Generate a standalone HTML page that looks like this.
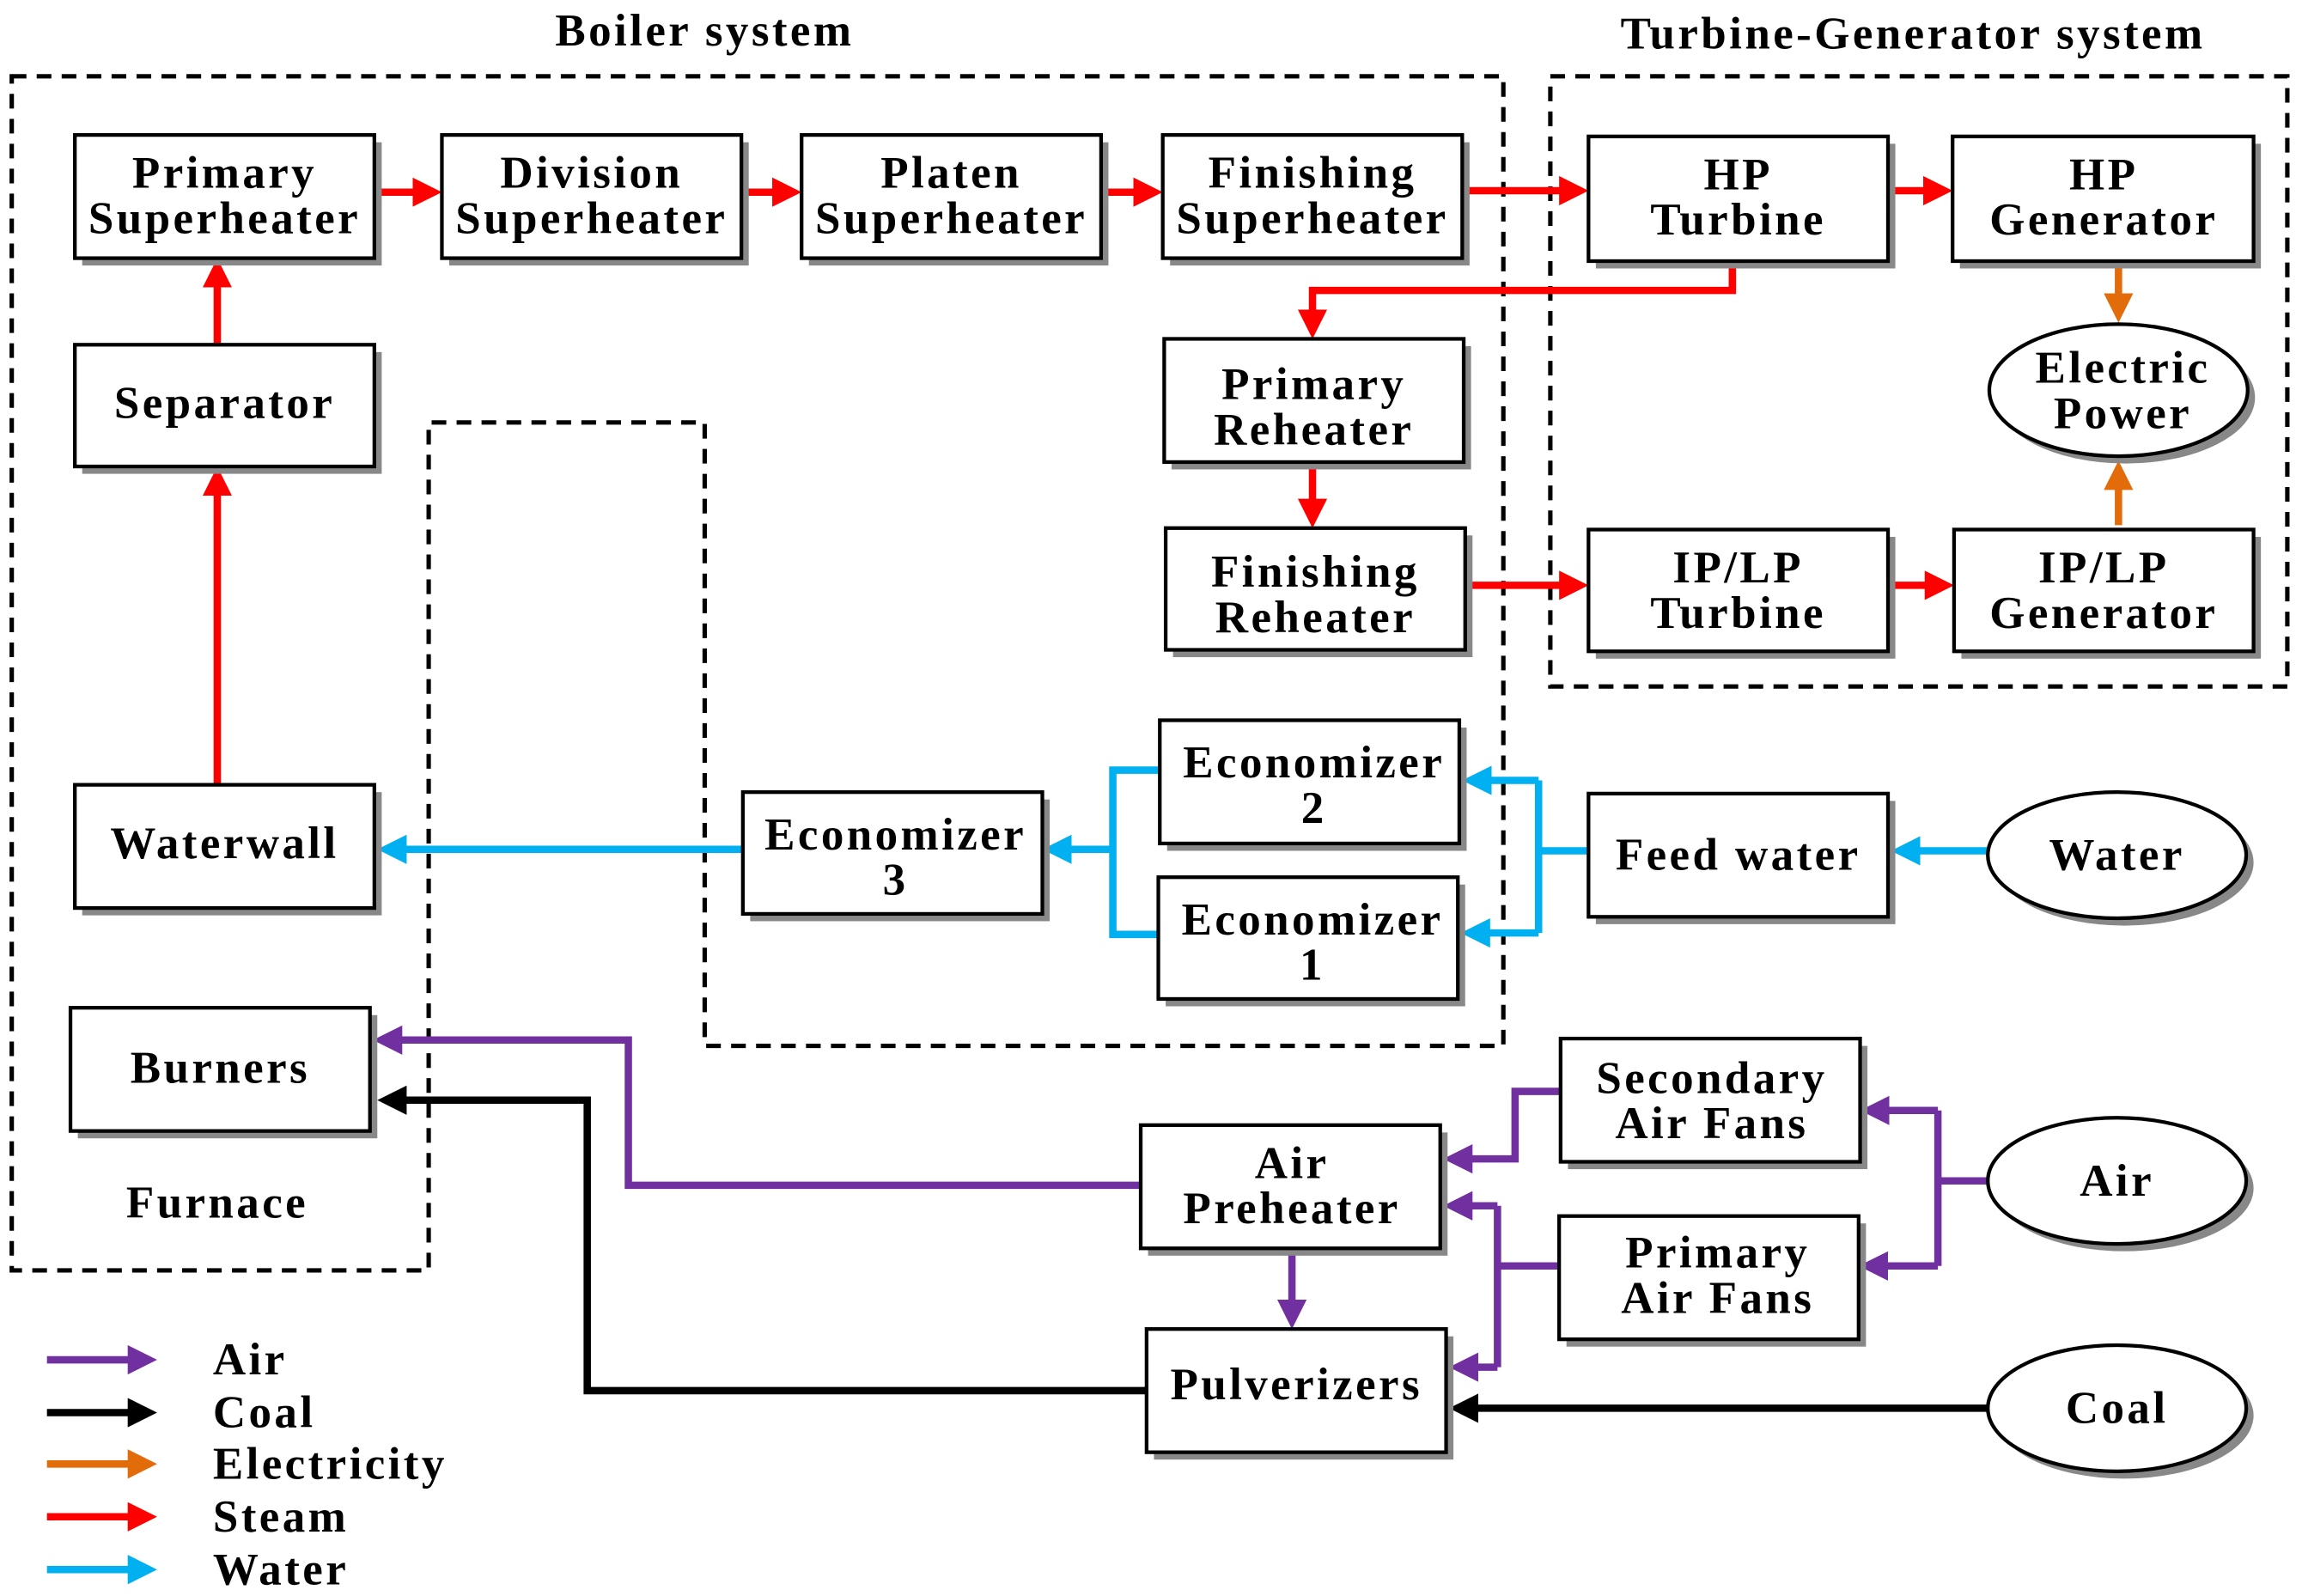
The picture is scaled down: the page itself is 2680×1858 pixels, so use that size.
<!DOCTYPE html>
<html><head><meta charset="utf-8"><style>
html,body{margin:0;padding:0;background:#fff}
svg{display:block}
text{font-family:"Liberation Serif",serif;font-weight:bold;font-size:31px;letter-spacing:2px;fill:#000}
</style></head><body>
<svg width="2680" height="1858" viewBox="0 0 1568 1088" preserveAspectRatio="none" xmlns="http://www.w3.org/2000/svg">
<defs>
<marker id="mr" markerWidth="4" markerHeight="4" refX="3" refY="2" orient="auto"><path d="M0,0L4,2L0,4Z" fill="#ff0000"/></marker>
<marker id="mb" markerWidth="4" markerHeight="4" refX="3" refY="2" orient="auto"><path d="M0,0L4,2L0,4Z" fill="#00b0f0"/></marker>
<marker id="mp" markerWidth="4" markerHeight="4" refX="3" refY="2" orient="auto"><path d="M0,0L4,2L0,4Z" fill="#7030a0"/></marker>
<marker id="mk" markerWidth="4" markerHeight="4" refX="3" refY="2" orient="auto"><path d="M0,0L4,2L0,4Z" fill="#000"/></marker>
<marker id="mo" markerWidth="4" markerHeight="4" refX="3" refY="2" orient="auto"><path d="M0,0L4,2L0,4Z" fill="#e36c0a"/></marker>
</defs>
<text x="480" y="31" text-anchor="middle" font-size="36">Boiler system</text>
<text x="1303" y="33" text-anchor="middle" font-size="36">Turbine-Generator system</text>
<g fill="none" stroke="#000" stroke-width="3" stroke-dasharray="10,7">
<path d="M8,52H1024V713H480V288H292V866H8Z"/>
<rect x="1056" y="52" width="502" height="416"/>
</g>
<text x="148" y="830" text-anchor="middle">Furnace</text>
<g fill="none" stroke-width="5">
<g stroke="#ff0000" marker-end="url(#mr)">
<path d="M255,131H296"/><path d="M505,131H541"/><path d="M750,131H787"/><path d="M996,130H1077"/><path d="M1286,130H1325"/>
<path d="M148,235V181"/><path d="M148,535V323"/>
<path d="M1180,178V198H894V226"/><path d="M894,315V355"/><path d="M998,399H1077"/><path d="M1286,399H1326"/>
</g>
<g stroke="#e36c0a" marker-end="url(#mo)"><path d="M1443,178V215"/><path d="M1443,358V319"/></g>
<g stroke="#00b0f0">
<path d="M1354,580H1293" marker-end="url(#mb)"/>
<path d="M1082,580H1048"/><path d="M1048,532V636"/>
<path d="M1048,532H1001" marker-end="url(#mb)"/><path d="M1048,636H1000" marker-end="url(#mb)"/>
<path d="M790,525H758V637H789"/>
<path d="M758,579H715" marker-end="url(#mb)"/>
<path d="M506,579H262" marker-end="url(#mb)"/>
</g>
<g stroke="#7030a0">
<path d="M1354,805H1320"/><path d="M1320,757V863"/>
<path d="M1320,757H1272" marker-end="url(#mp)"/><path d="M1320,863H1271" marker-end="url(#mp)"/>
<path d="M1063,744H1032V790H988" marker-end="url(#mp)"/>
<path d="M1062,863H1020"/><path d="M1020,822V932"/>
<path d="M1020,822H988" marker-end="url(#mp)"/><path d="M1020,932H992" marker-end="url(#mp)"/>
<path d="M880,851V901" marker-end="url(#mp)"/>
<path d="M777,808H428V709H259" marker-end="url(#mp)"/>
</g>
<g stroke="#000">
<path d="M1354,960H992" marker-end="url(#mk)"/>
<path d="M781,948H400V750H262" marker-end="url(#mk)"/>
</g>
</g>
<g stroke="#000" stroke-width="2.5">
<g fill="#888" stroke="none">
<rect x="56" y="97" width="204" height="84"/><rect x="306" y="97" width="204" height="84"/><rect x="551" y="97" width="204" height="84"/><rect x="797" y="97" width="204" height="84"/>
<rect x="1087" y="98" width="204" height="85"/><rect x="1335" y="98" width="205" height="85"/>
<rect x="56" y="240" width="204" height="83"/><rect x="798" y="236" width="204" height="84"/><rect x="799" y="365" width="204" height="83"/>
<rect x="1087" y="366" width="204" height="83"/><rect x="1336" y="366" width="204" height="83"/>
<rect x="56" y="540" width="204" height="84"/><rect x="511" y="545" width="204" height="83"/><rect x="795" y="496" width="204" height="84"/><rect x="794" y="603" width="204" height="83"/>
<rect x="1087" y="546" width="204" height="84"/><rect x="53" y="692" width="204" height="84"/>
<rect x="1068" y="713" width="204" height="84"/><rect x="782" y="772" width="204" height="84"/><rect x="1067" y="834" width="204" height="84"/><rect x="786" y="911" width="204" height="84"/>
<ellipse cx="1448" cy="271" rx="88" ry="45"/><ellipse cx="1447" cy="588" rx="88" ry="43"/><ellipse cx="1447" cy="810" rx="88" ry="43"/><ellipse cx="1447" cy="965" rx="88" ry="43"/>
</g>
<g fill="#fff">
<rect x="51" y="92" width="204" height="84"/><rect x="301" y="92" width="204" height="84"/><rect x="546" y="92" width="204" height="84"/><rect x="792" y="92" width="204" height="84"/>
<rect x="1082" y="93" width="204" height="85"/><rect x="1330" y="93" width="205" height="85"/>
<rect x="51" y="235" width="204" height="83"/><rect x="793" y="231" width="204" height="84"/><rect x="794" y="360" width="204" height="83"/>
<rect x="1082" y="361" width="204" height="83"/><rect x="1331" y="361" width="204" height="83"/>
<rect x="51" y="535" width="204" height="84"/><rect x="506" y="540" width="204" height="83"/><rect x="790" y="491" width="204" height="84"/><rect x="789" y="598" width="204" height="83"/>
<rect x="1082" y="541" width="204" height="84"/><rect x="48" y="687" width="204" height="84"/>
<rect x="1063" y="708" width="204" height="84"/><rect x="777" y="767" width="204" height="84"/><rect x="1062" y="829" width="204" height="84"/><rect x="781" y="906" width="204" height="84"/>
<ellipse cx="1443" cy="266" rx="88" ry="45"/><ellipse cx="1442" cy="583" rx="88" ry="43"/><ellipse cx="1442" cy="805" rx="88" ry="43"/><ellipse cx="1442" cy="960" rx="88" ry="43"/>
</g>
</g>
<g text-anchor="middle">
<text x="153" y="128">Primary</text><text x="153" y="159">Superheater</text>
<text x="403" y="128">Division</text><text x="403" y="159">Superheater</text>
<text x="648" y="128">Platen</text><text x="648" y="159">Superheater</text>
<text x="894" y="128">Finishing</text><text x="894" y="159">Superheater</text>
<text x="1184" y="129">HP</text><text x="1184" y="160">Turbine</text>
<text x="1433" y="129">HP</text><text x="1433" y="160">Generator</text>
<text x="153" y="285">Separator</text>
<text x="895" y="272">Primary</text><text x="895" y="303">Reheater</text>
<text x="896" y="400">Finishing</text><text x="896" y="431">Reheater</text>
<text x="1184" y="397">IP/LP</text><text x="1184" y="428">Turbine</text>
<text x="1433" y="397">IP/LP</text><text x="1433" y="428">Generator</text>
<text x="1446" y="261">Electric</text><text x="1446" y="292">Power</text>
<text x="153" y="585">Waterwall</text>
<text x="610" y="579">Economizer</text><text x="610" y="610">3</text>
<text x="895" y="530">Economizer</text><text x="895" y="561">2</text>
<text x="894" y="637">Economizer</text><text x="894" y="668">1</text>
<text x="1184" y="593">Feed water</text>
<text x="1442" y="593">Water</text>
<text x="150" y="738">Burners</text>
<text x="1166" y="745">Secondary</text><text x="1166" y="776">Air Fans</text>
<text x="880" y="803">Air</text><text x="880" y="834">Preheater</text>
<text x="1170" y="864">Primary</text><text x="1170" y="895">Air Fans</text>
<text x="883" y="954">Pulverizers</text>
<text x="1442" y="815">Air</text>
<text x="1442" y="970">Coal</text>
</g>
<g stroke-width="5" fill="none">
<path d="M32,927H102" stroke="#7030a0" marker-end="url(#mp)"/>
<path d="M32,963H102" stroke="#000" marker-end="url(#mk)"/>
<path d="M32,998H102" stroke="#e36c0a" marker-end="url(#mo)"/>
<path d="M32,1034H102" stroke="#ff0000" marker-end="url(#mr)"/>
<path d="M32,1070H102" stroke="#00b0f0" marker-end="url(#mb)"/>
</g>
<g>
<text x="145" y="937" font-size="34" letter-spacing="2.5">Air</text>
<text x="145" y="973" font-size="34" letter-spacing="2.5">Coal</text>
<text x="145" y="1008" font-size="34" letter-spacing="2.5">Electricity</text>
<text x="145" y="1044" font-size="34" letter-spacing="2.5">Steam</text>
<text x="145" y="1080" font-size="34" letter-spacing="2.5">Water</text>
</g>
</svg>
</body></html>
